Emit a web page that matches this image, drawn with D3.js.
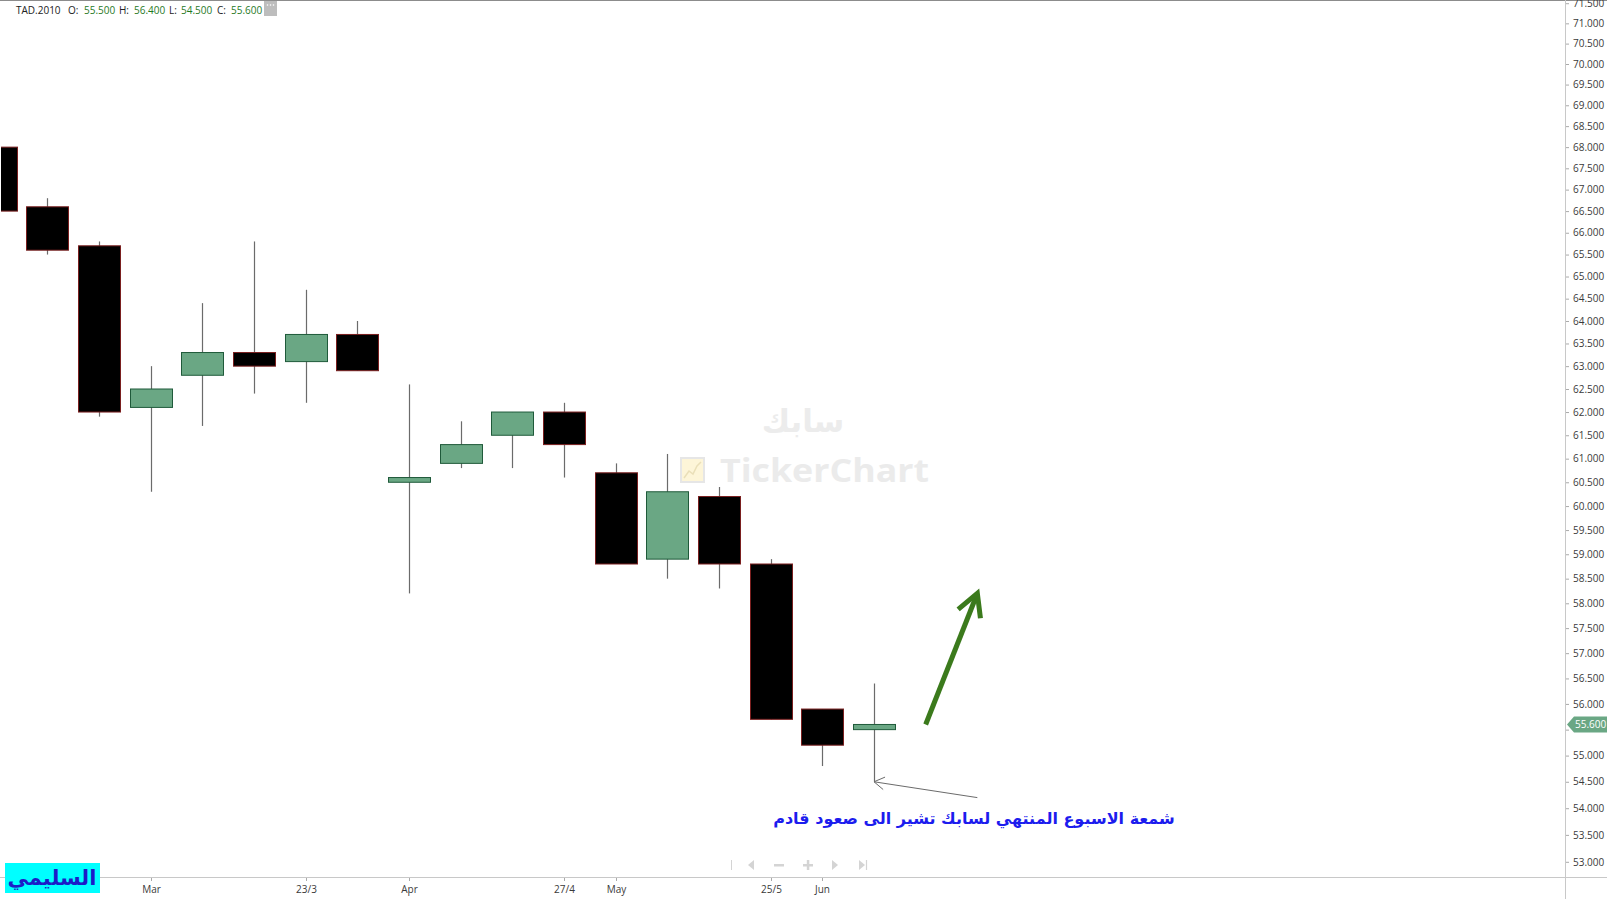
<!DOCTYPE html>
<html>
<head>
<meta charset="utf-8">
<script src="https://cdn.jsdelivr.net/npm/d3@7"></script>
<style>
  html, body { margin: 0; padding: 0; background: #fff; overflow: hidden; }
  svg { display: block; }
</style>
</head>
<body>
<svg id="chart" width="1607" height="899"></svg>
<script>
// ---------------- DATA ----------------
const symbol = "TAD.2010";
const weeks = ["09/02","16/02","23/02","02/03","09/03","16/03","23/03","30/03","06/04","13/04","20/04","27/04","04/05","11/05","18/05","25/05","01/06","08/06"];
const openV  = [68.0, 66.6, 65.7, 62.1, 62.8, 63.3, 63.1, 63.7, 60.5, 60.9, 61.5, 62.0, 60.7, 58.9, 60.2, 58.8, 55.9, 55.5];
const highV  = [68.0, 66.8, 65.8, 63.0, 64.4, 65.8, 64.7, 64.0, 62.6, 61.8, 62.0, 62.2, 60.9, 61.1, 60.4, 58.9, 55.9, 56.4];
const lowV   = [66.5, 65.5, 61.9, 60.3, 61.7, 62.4, 62.2, 62.9, 58.2, 60.8, 60.8, 60.6, 58.8, 58.5, 58.3, 55.7, 54.8, 54.5];
const closeV = [66.5, 65.6, 62.0, 62.5, 63.3, 63.0, 63.7, 62.9, 60.6, 61.3, 62.0, 61.3, 58.8, 60.3, 58.8, 55.7, 55.2, 55.6];
const xTickWeeks  = ["16/02","02/03","23/03","06/04","27/04","04/05","25/05","01/06"];
const xTickLabels = ["",     "Mar",  "23/3", "Apr",  "27/4", "May",  "25/5", "Jun"];
const yTicks = [53.0,53.5,54.0,54.5,55.0,55.5,56.0,56.5,57.0,57.5,58.0,58.5,59.0,59.5,60.0,60.5,61.0,61.5,62.0,62.5,63.0,63.5,64.0,64.5,65.0,65.5,66.0,66.5,67.0,67.5,68.0,68.5,69.0,69.5,70.0,70.5,71.0,71.5];
const yDomain = [52.72, 71.58];
const lastPrice = 55.6;
const annotationText = "شمعة الاسبوع المنتهي لسابك تشير الى صعود قادم";
const authorText = "السليمي";
// annotation anchors in data space: [bar index, price]
const upArrow = { from: [18, 55.6], to: [19, 58.2] };
const noteArrow = { from: [19, 54.2], to: [17, 54.5] };

// ---------------- LAYOUT ----------------
const W = 1607, H = 899;
const plotRight = 1565, plotBottom = 877;
const svg = d3.select("#chart");

const xIdx = d3.scaleLinear().domain([0, weeks.length - 1]).range([-4.4, 874.0]);
const x = d => xIdx(weeks.indexOf(d));
const y = d3.scaleLog().domain(yDomain).range([plotBottom, 0]);

const FONT = "'Open Sans', 'Liberation Sans', sans-serif";

// clip
svg.append("defs").append("clipPath").attr("id", "plotClip")
  .append("rect").attr("x", 1).attr("y", 0).attr("width", plotRight - 1).attr("height", plotBottom);

// top border
svg.append("line").attr("x1", 0).attr("x2", W).attr("y1", 0.5).attr("y2", 0.5)
  .attr("stroke", "#8c8c8c").attr("stroke-width", 1);

// ---------------- WATERMARK ----------------
const wm = svg.append("g");
wm.append("text").attr("x", 803).attr("y", 432).attr("text-anchor", "middle")
  .attr("font-family", "'DejaVu Sans', sans-serif").attr("font-weight", "bold").attr("font-size", 31)
  .attr("fill", "#ececec").text("سابك");
wm.append("rect").attr("x", 681).attr("y", 458).attr("width", 23).attr("height", 24)
  .attr("fill", "#fdf5d8").attr("stroke", "#e6e6e6").attr("stroke-width", 2);
wm.append("polyline").attr("points", "684,478 689,471 693,474 697,466 701,462")
  .attr("fill", "none").attr("stroke", "#eadfb8").attr("stroke-width", 1.5);
wm.append("text").attr("x", 720).attr("y", 482)
  .attr("font-family", FONT).attr("font-weight", "bold").attr("font-size", 33)
  .attr("textLength", 209).attr("lengthAdjust", "spacingAndGlyphs")
  .attr("fill", "#ebebeb").text("TickerChart");

// ---------------- CANDLES ----------------
const data = weeks.map((w, i) => ({ w, o: openV[i], h: highV[i], l: lowV[i], c: closeV[i] }));
const gC = svg.append("g").attr("clip-path", "url(#plotClip)");
const bodyW = 42;

gC.selectAll("line.wick").data(data).enter().append("line")
  .attr("class", "wick")
  .attr("x1", d => Math.round(x(d.w)) + 0.5).attr("x2", d => Math.round(x(d.w)) + 0.5)
  .attr("y1", d => y(d.h)).attr("y2", d => y(d.l))
  .attr("stroke", "#6b6b6b").attr("stroke-width", 1.2);

gC.selectAll("rect.body").data(data).enter().append("rect")
  .attr("class", "body")
  .attr("x", d => Math.round(x(d.w) - bodyW / 2) + 0.5)
  .attr("width", bodyW)
  .attr("y", d => y(Math.max(d.o, d.c)))
  .attr("height", d => Math.max(2, y(Math.min(d.o, d.c)) - y(Math.max(d.o, d.c))))
  .attr("fill", d => d.c >= d.o ? "#6aa784" : "#000000")
  .attr("stroke", d => d.c >= d.o ? "#1f5a3a" : "#7a1f1f")
  .attr("stroke-width", 1);

// ---------------- AXES ----------------
const ly = y(lastPrice);
// right y axis
svg.append("line").attr("x1", plotRight + 0.5).attr("x2", plotRight + 0.5).attr("y1", 0).attr("y2", H)
  .attr("stroke", "#c8c8c8");
const yAxis = d3.axisRight(y).tickValues(yTicks).tickFormat(d3.format(".3f")).tickSize(3).tickPadding(4);
const gY = svg.append("g").attr("transform", `translate(${plotRight + 1},0)`).call(yAxis);
gY.select(".domain").remove();
gY.selectAll(".tick line").attr("stroke", "#aaaaaa");
gY.selectAll(".tick text").attr("font-family", FONT).attr("font-size", 10).attr("fill", "#3a3a3a");
// the last-price tag hides the tick label beneath it
gY.selectAll(".tick").filter(d => Math.abs(y(d) - ly) < 12).select("text").remove();

// bottom x axis
svg.append("line").attr("x1", 0).attr("x2", W).attr("y1", plotBottom + 0.5).attr("y2", plotBottom + 0.5)
  .attr("stroke", "#c8c8c8");
const xTickG = svg.append("g");
xTickWeeks.forEach((w, i) => {
  const xx = Math.round(x(w)) + 0.5;
  xTickG.append("line").attr("x1", xx).attr("x2", xx).attr("y1", plotBottom + 1).attr("y2", plotBottom + 4)
    .attr("stroke", "#aaaaaa");
  xTickG.append("text").attr("x", xx).attr("y", 893).attr("text-anchor", "middle")
    .attr("font-family", FONT).attr("font-size", 10).attr("fill", "#3a3a3a").text(xTickLabels[i]);
});

// last price tag
svg.append("path")
  .attr("d", `M${plotRight + 2},${ly} L${plotRight + 9},${ly - 8} L${W},${ly - 8} L${W},${ly + 8} L${plotRight + 9},${ly + 8} Z`)
  .attr("fill", "#6aa784");
svg.append("text").attr("x", plotRight + 10).attr("y", ly + 3.6)
  .attr("font-family", FONT).attr("font-size", 10).attr("fill", "#ffffff").text(d3.format(".3f")(lastPrice));

// ---------------- HEADER ----------------
const hdr = svg.append("g").attr("font-family", FONT).attr("font-size", 10);
const last = data[data.length - 1];
const hdrItems = [
  { t: symbol, x: 16, c: "#222" },
  { t: "O:", x: 68, c: "#222" }, { t: d3.format(".3f")(last.o), x: 84, c: "#1f7a1f" },
  { t: "H:", x: 119, c: "#222" }, { t: d3.format(".3f")(last.h), x: 134, c: "#1f7a1f" },
  { t: "L:", x: 169, c: "#222" }, { t: d3.format(".3f")(last.l), x: 181, c: "#1f7a1f" },
  { t: "C:", x: 217, c: "#222" }, { t: d3.format(".3f")(last.c), x: 231, c: "#1f7a1f" }
];
hdrItems.forEach(it => hdr.append("text").attr("x", it.x).attr("y", 14).attr("fill", it.c).text(it.t));
svg.append("rect").attr("x", 264).attr("y", 1).attr("width", 13).attr("height", 15).attr("fill", "#bdbdbd");
[267.5, 270.5, 273.5].forEach(cx => svg.append("circle").attr("cx", cx).attr("cy", 5).attr("r", 0.8).attr("fill", "#fff"));

// ---------------- NAV ICONS ----------------
const nav = svg.append("g").attr("fill", "#d4d4d4").attr("stroke", "#d4d4d4");
nav.append("line").attr("x1", 731.5).attr("x2", 731.5).attr("y1", 860).attr("y2", 870).attr("stroke-width", 1);
nav.append("path").attr("d", "M748,865 L754,860 L754,870 Z").attr("stroke", "none");
nav.append("rect").attr("x", 774).attr("y", 864).attr("width", 10).attr("height", 2.5).attr("stroke", "none");
nav.append("rect").attr("x", 803).attr("y", 864).attr("width", 10).attr("height", 2.5).attr("stroke", "none");
nav.append("rect").attr("x", 806.8).attr("y", 860).attr("width", 2.5).attr("height", 10).attr("stroke", "none");
nav.append("path").attr("d", "M838,865 L832,860 L832,870 Z").attr("stroke", "none");
nav.append("path").attr("d", "M865,865 L859,860 L859,870 Z").attr("stroke", "none");
nav.append("line").attr("x1", 866.5).attr("x2", 866.5).attr("y1", 860).attr("y2", 870).attr("stroke-width", 1.2);

// ---------------- ANNOTATIONS ----------------
const P = a => [xIdx(a[0]), y(a[1])];
// green up arrow
{
  const [x0, y0] = P(upArrow.from), [x1, y1] = P(upArrow.to);
  const ang = Math.atan2(y1 - y0, x1 - x0);
  const L = 25, spread = 0.5;
  const w1 = [x1 - L * Math.cos(ang - spread), y1 - L * Math.sin(ang - spread)];
  const w2 = [x1 - L * Math.cos(ang + spread), y1 - L * Math.sin(ang + spread)];
  svg.append("line").attr("x1", x0).attr("y1", y0).attr("x2", x1 - 2 * Math.cos(ang)).attr("y2", y1 - 2 * Math.sin(ang))
    .attr("stroke", "#3b7a1c").attr("stroke-width", 5);
  svg.append("polyline").attr("points", [w1, [x1, y1], w2].map(p => p.join(",")).join(" "))
    .attr("fill", "none").attr("stroke", "#3b7a1c").attr("stroke-width", 5).attr("stroke-linejoin", "miter");
}
// gray note arrow
{
  const [x0, y0] = P(noteArrow.from), [x1, y1] = P(noteArrow.to);
  const ang = Math.atan2(y1 - y0, x1 - x0);
  const L = 12, spread = 0.55;
  const w1 = [x1 - L * Math.cos(ang - spread), y1 - L * Math.sin(ang - spread)];
  const w2 = [x1 - L * Math.cos(ang + spread), y1 - L * Math.sin(ang + spread)];
  svg.append("line").attr("x1", x0).attr("y1", y0).attr("x2", x1).attr("y2", y1)
    .attr("stroke", "#6b6b6b").attr("stroke-width", 1);
  svg.append("polyline").attr("points", [w1, [x1, y1], w2].map(p => p.join(",")).join(" "))
    .attr("fill", "none").attr("stroke", "#6b6b6b").attr("stroke-width", 1);
}
svg.append("text").attr("x", 974).attr("y", 824).attr("text-anchor", "middle")
  .attr("direction", "rtl")
  .attr("font-family", "'DejaVu Sans', sans-serif").attr("font-weight", "bold").attr("font-size", 16)
  .attr("fill", "#1c1cee").text(annotationText);

// author box
svg.append("rect").attr("x", 5).attr("y", 863).attr("width", 95).attr("height", 30).attr("fill", "#00ffff");
svg.append("text").attr("x", 52).attr("y", 885).attr("text-anchor", "middle")
  .attr("direction", "rtl")
  .attr("font-family", "'DejaVu Sans', sans-serif").attr("font-weight", "bold").attr("font-size", 21)
  .attr("fill", "#1c1cc8").text(authorText);
</script>
</body>
</html>
